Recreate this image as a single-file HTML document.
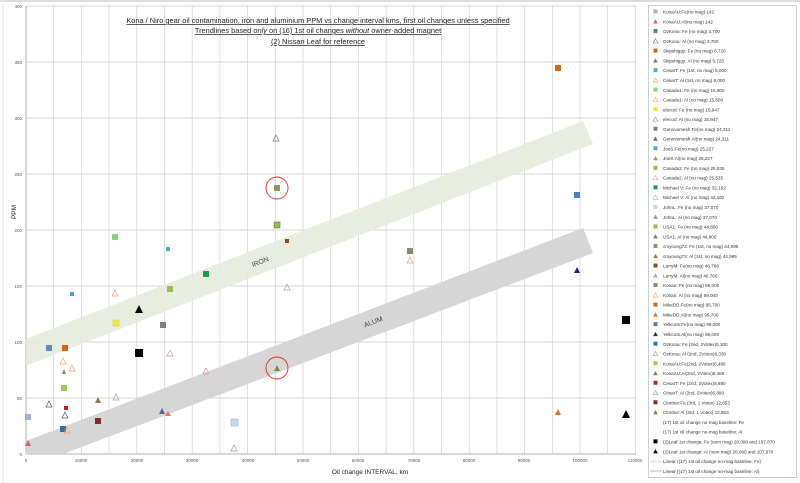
<!DOCTYPE html>
<html><head><meta charset="utf-8"><style>
html,body{margin:0;padding:0;background:#fff;}
svg{display:block;font-family:"Liberation Sans",sans-serif;}
</style></head><body>
<svg width="800" height="483" viewBox="0 0 800 483" xmlns="http://www.w3.org/2000/svg">
<rect x="0" y="0" width="800" height="483" fill="#fff"/>
<line x1="0" y1="1" x2="800" y2="1" stroke="#ddd" stroke-width="2"/>
<line x1="3" y1="0" x2="3" y2="483" stroke="#e4e4e4" stroke-width="1"/>
<defs><clipPath id="pc"><rect x="26" y="6" width="610" height="448"/></clipPath></defs>
<g stroke="#c8c8c8" stroke-width="0.8">
<line x1="26" y1="6" x2="636" y2="6"/><line x1="26" y1="62" x2="636" y2="62"/><line x1="26" y1="118" x2="636" y2="118"/><line x1="26" y1="174" x2="636" y2="174"/><line x1="26" y1="230" x2="636" y2="230"/><line x1="26" y1="286" x2="636" y2="286"/><line x1="26" y1="342" x2="636" y2="342"/><line x1="26" y1="398" x2="636" y2="398"/>
</g>
<g stroke="#d0d0d0" stroke-width="0.7" id="vg"></g>
<script>
var g=document.getElementById('vg');
for(var i=1;i<=22;i++){var x=26+i*27.7;var l=document.createElementNS('http://www.w3.org/2000/svg','line');l.setAttribute('x1',x);l.setAttribute('x2',x);l.setAttribute('y1',6);l.setAttribute('y2',454);g.appendChild(l);}
</script>
<line x1="26" y1="454" x2="636" y2="454" stroke="#999" stroke-width="0.8"/>
<line x1="26" y1="6" x2="26" y2="454" stroke="#999" stroke-width="0.8"/>
<g clip-path="url(#pc)">
<polygon points="0,349 583,121 593,144 0,376" fill="#e6ebdc" opacity="0.9"/>
<polygon points="0,451 583,228 593,253 0,478" fill="#d6d6d6"/>
</g>
<text x="261" y="264" font-size="7" fill="#444" transform="rotate(-21 261 264)" text-anchor="middle">IRON</text>
<text x="374" y="324" font-size="7" fill="#444" transform="rotate(-21 374 324)" text-anchor="middle">ALUM</text>
<g font-size="7.4" fill="#222" text-anchor="middle" text-decoration="underline">
<text x="318" y="23">Kona / Niro gear oil contamination,  iron and aluminium PPM vs change interval kms, first oil changes unless specified</text>
<text x="318" y="33">Trendlines based <tspan font-style="italic">only</tspan> on (16) 1st oil changes <tspan font-style="italic">without</tspan> owner-added magnet</text>
<text x="318" y="44">(2) Nissan  Leaf for reference</text>
</g>
<g font-size="4.5" fill="#555" text-anchor="end">
<text x="22" y="8">400</text><text x="22" y="64">350</text><text x="22" y="120">300</text><text x="22" y="176">250</text><text x="22" y="232">200</text><text x="22" y="288">150</text><text x="22" y="344">100</text><text x="22" y="400">50</text><text x="22" y="456">0</text>
</g>
<g font-size="4.5" fill="#555" text-anchor="middle">
<text x="26" y="462">0</text><text x="81" y="462">10000</text><text x="137" y="462">20000</text><text x="192" y="462">30000</text><text x="248" y="462">40000</text><text x="303" y="462">50000</text><text x="358" y="462">60000</text><text x="414" y="462">70000</text><text x="469" y="462">80000</text><text x="524" y="462">90000</text><text x="580" y="462">100000</text><text x="635" y="462">110000</text>
</g>
<text x="370" y="474" font-size="6.5" fill="#222" text-anchor="middle">Oil change INTERVAL, km</text>
<text x="16" y="212" font-size="6.5" fill="#222" text-anchor="middle" transform="rotate(-90 16 212)">PPM</text>
<g stroke-width="0.5">
<rect x="555" y="65" width="6" height="6" fill="#d2691e"/>
<rect x="274" y="185" width="6" height="6" fill="#9a9060"/>
<rect x="574" y="192" width="6" height="6" fill="#4f7fbf"/>
<rect x="274" y="222" width="6" height="6" fill="#8bbf50" stroke="#556b2f"/>
<rect x="112" y="234" width="6" height="6" fill="#8fd07a"/>
<rect x="285" y="239" width="4" height="4" fill="#8b4a2a"/>
<rect x="166" y="247" width="4" height="4" fill="#4bacc6"/>
<rect x="407" y="248" width="6" height="6" fill="#8a8a6a"/>
<rect x="203" y="271" width="6" height="6" fill="#1aa050"/>
<rect x="70" y="292" width="4" height="4" fill="#4bacc6"/>
<rect x="167" y="286" width="6" height="6" fill="#9bbb59"/>
<rect x="113" y="320" width="6" height="6" fill="#f0f020" stroke="#bbb"/>
<rect x="160" y="322" width="6" height="6" fill="#808080"/>
<rect x="46" y="345" width="6" height="6" fill="#5b8db8"/>
<rect x="62" y="345" width="6" height="6" fill="#e06010"/>
<rect x="135" y="349" width="8" height="8" fill="#000"/>
<rect x="61" y="385" width="6" height="6" fill="#92d050"/>
<rect x="64" y="406" width="4" height="4" fill="#c0202a"/>
<rect x="25" y="414" width="6" height="6" fill="#9bb0dc"/>
<rect x="95" y="418" width="6" height="6" fill="#7b2c2c"/>
<rect x="231" y="419" width="7" height="7" fill="#c8d8f0" stroke="#8aa4cc"/>
<rect x="60" y="426" width="6" height="6" fill="#3c6ea0"/>
<rect x="622" y="316" width="8" height="8" fill="#000"/>
</g>
<g fill="none" stroke-width="0.7">
<polygon points="276,135 279,141 273,141" stroke="#777"/>
<polygon points="410,257 413,263 407,263" stroke="#f0a060"/>
<polygon points="115,290 118,296 112,296" stroke="#f0a060"/>
<polygon points="287,284 290,290 284,290" stroke="#a0a0d0"/>
<polygon points="170,350 173,356 167,356" stroke="#e090a0"/>
<polygon points="63,358 66,364 60,364" stroke="#f0a060"/>
<polygon points="72,365 75,371 69,371" stroke="#f0a060"/>
<polygon points="206,368 209,374 203,374" stroke="#e090a0"/>
<polygon points="49,401 52,407 46,407" stroke="#555"/>
<polygon points="116,394 119,400 113,400" stroke="#a0a0d0"/>
<polygon points="65,412 68,418 62,418" stroke="#555"/>
<polygon points="67,427 70,433 64,433" stroke="#f0a060"/>
<polygon points="234,445 237,451 231,451" stroke="#a09090"/>
</g>
<g>
<polygon points="577,267 580,273 574,273" fill="#202080"/>
<polygon points="139,305 143,313 135,313" fill="#000"/>
<polygon points="64,369 66,374 62,374" fill="#7a8a50"/>
<polygon points="277,365 280,371 274,371" fill="#7a8a50"/>
<polygon points="98,397 101,403 95,403" fill="#8a7a40"/>
<polygon points="162,408 165,414 159,414" fill="#606090"/>
<polygon points="168,411 171,416 165,416" fill="#e08040"/>
<polygon points="558,409 561,415 555,415" fill="#e07020"/>
<polygon points="28,440 31,446 25,446" fill="#d06070"/>
<polygon points="626,410 630,418 622,418" fill="#000"/>
</g>
<circle cx="277" cy="188" r="11" fill="none" stroke="#e03020" stroke-width="0.9"/>
<circle cx="277" cy="368" r="11" fill="none" stroke="#e03020" stroke-width="0.9"/>
<rect x="648.5" y="5.5" width="148" height="472" fill="#fff" stroke="#bcc4d0" stroke-width="0.8"/>
<g font-size="4.6" fill="#333" id="leg"></g>
<script>
var items=[
["s","#9bb0dc","KonaAU:Fe(no mag) 142"],["t","#d06070","KonaAU:Al(no mag) 142"],
["s","#5b7f90","OzKona: Fe (no mag) 3,700"],["o","#777","OzKona: Al (no mag) 3,700"],
["s","#e06010","Skipshiggy: Fe (no mag) 6,720"],["t","#777","Skipshiggy: Al (no mag) 6,720"],
["s","#4bacc6","CésarT: Fe (1st, no mag) 8,000"],["o","#f0a060","CésarT: Al (1st, no mag) 8,000"],
["s","#8fd07a","Canada1: Fe (no mag) 15,600"],["o","#f0a060","Canada1: Al (no mag) 15,600"],
["s","#e0f020","elecod: Fe (no mag) 15,947"],["o","#999","elecod: Al (no mag) 15,947"],
["s","#808080","Genovamesh:Fe(no mag) 24,311"],["t","#606090","Genovamesh:Al(no mag) 24,311"],
["s","#4bacc6","JoeS:Fe(no mag) 25,227"],["t","#e08040","JoeS:Al(no mag) 25,227"],
["s","#9bbb59","Canada2: Fe (no mag) 25,535"],["o","#e090a0","Canada2: Al (no mag) 25,535"],
["s","#1aa050","Michael V: Fe (no mag) 32,162"],["o","#e090a0","Michael V: Al (no mag) 32,162"],
["s","#c8d8f0","JohnL: Fe (no mag) 37,070"],["t","#a09090","JohnL: Al (no mag) 37,070"],
["s","#8bbf50","USA1: Fe (no mag) 44,800"],["t","#777","USA1: Al (no mag) 44,800"],
["s","#9a9060","cmyoung72: Fe (1st, no mag) 44,995"],["t","#7a8a50","cmyoung72: Al (1st, no mag) 44,995"],
["s","#8b4a2a","LarryM: Fe(no mag) 46,766"],["t","#a0a0d0","LarryM: Al(no mag) 46,766"],
["s","#8a8a6a","Konan: Fe (no mag) 69,000"],["o","#f0a060","Konan: Al (no mag) 69,000"],
["s","#d2691e","MikeDD:Fe(no mag) 95,700"],["t","#e07020","MikeDD:Al(no mag) 95,700"],
["s","#4f7fbf","Yelkcots:Fe(no mag) 99,000"],["t","#202080","Yelkcots:Al(no mag) 99,000"],
["s","#3c6ea0","OzKona: Fe (2nd, 2Votex)6,300"],["o","#999","OzKona: Al (2nd, 2Votex)6,330"],
["s","#92d050","KonaAU:Fe(2nd, 2Votex)6,488"],["t","#7a8a50","KonaAU:Al(2nd, 2Votex)6,488"],
["s","#c0202a","CésarT: Fe (2nd, 2Votex)6,880"],["o","#999","CésarT: Al (2nd, 2Votex)6,880"],
["s","#7b2c2c","Clonbur:Fe (3rd, 1 Votex) 12,653"],["t","#8a7a40","Clonbur:Al (3rd, 1 Votex) 12,653"],
["n","","(17) 1st oil change no-mag baseline: Fe"],["n","","(17) 1st oil change no-mag baseline: Al"],
["s","#000","(2)Leaf 1st change: Fe (oem mag) 20,090 and 107,870"],["t","#000","(2)Leaf 1st change: Al (oem mag) 20,090 and 107,870"],
["l","#e4e9da","Linear ((17) 1st oil change no-mag baseline: Fe)"],["l","#d6d6d6","Linear ((17) 1st oil change no-mag baseline: Al)"]];
var L=document.getElementById('leg'),NS='http://www.w3.org/2000/svg';
items.forEach(function(it,i){var y=12+i*9.77;var e;
if(it[0]=="s"){e=document.createElementNS(NS,'rect');e.setAttribute('x',653.5);e.setAttribute('y',y-2.5);e.setAttribute('width',4);e.setAttribute('height',4);e.setAttribute('fill',it[1]);}
else if(it[0]=="t"||it[0]=="o"){e=document.createElementNS(NS,'polygon');e.setAttribute('points',(655.5)+','+(y-2.5)+' '+(657.8)+','+(y+1.7)+' '+(653.2)+','+(y+1.7));if(it[0]=="t")e.setAttribute('fill',it[1]);else{e.setAttribute('fill','none');e.setAttribute('stroke',it[1]);e.setAttribute('stroke-width','0.6');}}
else if(it[0]=="l"){e=document.createElementNS(NS,'line');e.setAttribute('x1',650);e.setAttribute('x2',662);e.setAttribute('y1',y);e.setAttribute('y2',y);e.setAttribute('stroke',it[1]);e.setAttribute('stroke-width','2');}
if(e)L.appendChild(e);
var t=document.createElementNS(NS,'text');t.setAttribute('x',663);t.setAttribute('y',y+1.6);t.textContent=it[2];L.appendChild(t);});
</script>
</svg>
</body></html>
